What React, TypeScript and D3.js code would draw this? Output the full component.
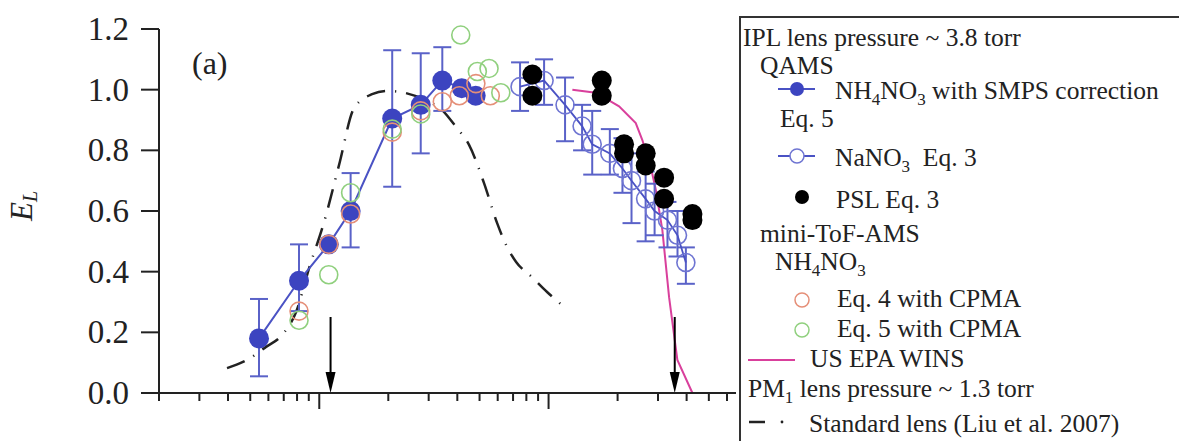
import React from "react";
import * as d3 from "d3";

// ---- Data (aerodynamic diameter in nm, E_L) ----
const blueX = [54.6, 81.6, 110, 137, 208, 277, 344, 418, 481];
const blueY = [0.18, 0.37, 0.49, 0.6, 0.905, 0.95, 1.03, 1.005, 0.98];
const blueLo = [0.055, 0.27, null, 0.48, 0.68, 0.79, 0.93, null, null];
const blueHi = [0.31, 0.49, null, 0.725, 1.13, 1.12, 1.14, null, null];

const naX = [751, 956, 1180, 1400, 1550, 1850, 2100, 2300, 2650, 2900, 3300, 3650, 3970];
const naY = [1.01, 1.03, 0.95, 0.88, 0.82, 0.79, 0.74, 0.7, 0.64, 0.6, 0.57, 0.52, 0.43];
const naLo = [0.93, 0.95, 0.83, 0.8, 0.72, 0.72, 0.66, 0.56, 0.5, 0.52, 0.48, 0.45, 0.36];
const naHi = [1.09, 1.1, 1.04, 0.95, 0.93, 0.87, 0.84, 0.79, 0.73, 0.69, 0.63, 0.6, 0.48];

const pslX = [850, 850, 1706, 1706, 2134, 2134, 2652, 2652, 3190, 3190, 4240, 4240];
const pslY = [1.05, 0.98, 1.03, 0.98, 0.82, 0.79, 0.79, 0.75, 0.71, 0.64, 0.59, 0.57];

const redX = [81.6, 110, 137, 208, 277, 344, 408, 482, 557];
const redY = [0.27, 0.49, 0.59, 0.86, 0.93, 0.96, 0.98, 1.02, 0.98];

const greenX = [81.6, 110, 137, 208, 277, 414, 489, 550, 619];
const greenY = [0.24, 0.39, 0.66, 0.87, 0.92, 1.18, 1.06, 1.07, 0.99];

const winsX = [1270, 1606, 2030, 2400, 2564, 2791, 2935, 3135, 3354, 3645, 4240];
const winsY = [1.0, 0.99, 0.945, 0.89, 0.834, 0.745, 0.67, 0.537, 0.316, 0.109, 0.0];

const liuX = [39.6, 48.4, 58.6, 68.2, 79.2, 90.3, 105, 122, 142, 170, 198, 223, 295, 340, 395, 450, 523, 596, 653, 722, 847, 985, 1168];
const liuY = [0.082, 0.109, 0.152, 0.188, 0.267, 0.412, 0.564, 0.752, 0.94, 0.985, 0.996, 0.993, 0.963, 0.936, 0.877, 0.818, 0.692, 0.561, 0.488, 0.432, 0.382, 0.333, 0.284];

const arrowX = [112, 3550];
const yTicks = [0, 0.2, 0.4, 0.6, 0.8, 1.0, 1.2];

const FONT = "'Liberation Serif', 'Times New Roman', serif";
const BLUE = "#3c44c0";
const BLUE_BAR = "#5a62c8";
const OPEN_BLUE = "#6f75d2";
const RED = "#e58f78";
const GREEN = "#90d07e";
const PINK = "#d9409c";

export default function App() {
  const x = d3.scaleLog().domain([20, 6000]).range([159, 727]);
  const y = d3.scaleLinear().domain([0, 1.2]).range([393, 29]);

  const majors = [100, 1000];
  const minors: number[] = [];
  [10, 100, 1000].forEach((dec) => {
    for (let k = 2; k <= 9; k++) {
      const v = dec * k;
      if (v >= 20 && v <= 6000) minors.push(v);
    }
  });

  const line = d3
    .line<[number, number]>()
    .x((d) => x(d[0]))
    .y((d) => y(d[1]));
  const curve = d3
    .line<[number, number]>()
    .x((d) => x(d[0]))
    .y((d) => y(d[1]))
    .curve(d3.curveMonotoneX);

  const bluePts = blueX.map((v, i) => [v, blueY[i]] as [number, number]);
  const naPts = naX.map((v, i) => [v, naY[i]] as [number, number]);
  const winsPts = winsX.map((v, i) => [v, winsY[i]] as [number, number]);
  const liuPts = liuX.map((v, i) => [v, liuY[i]] as [number, number]);

  const errBar = (xv: number, lo: number | null, hi: number | null, color: string, key: string) => {
    if (lo == null || hi == null) return null;
    const cx = x(xv);
    return (
      <g key={key} stroke={color} strokeWidth={2}>
        <line x1={cx} x2={cx} y1={y(lo)} y2={y(hi)} />
        <line x1={cx - 9} x2={cx + 9} y1={y(lo)} y2={y(lo)} />
        <line x1={cx - 9} x2={cx + 9} y1={y(hi)} y2={y(hi)} />
      </g>
    );
  };

  const sub = (t: string) => (
    <tspan fontSize={17} dy={6}>
      {t}
    </tspan>
  );
  const up = (t: string) => <tspan dy={-6}>{t}</tspan>;

  return (
    <svg width={1179} height={441} style={{ display: "block", position: "absolute", left: 0, top: 0, background: "#fff" }}>
      <rect x={0} y={0} width={1179} height={441} fill="#fff" />

      {/* Liu et al. dashed curve */}
      <path d={curve(liuPts) || ""} fill="none" stroke="#222" strokeWidth={2.5} strokeDasharray="19,10,1.2,10" />

      {/* US EPA WINS */}
      <path d={line(winsPts) || ""} fill="none" stroke={PINK} strokeWidth={2} />

      {/* Blue NH4NO3 error bars, line, markers */}
      {blueX.map((v, i) => errBar(v, blueLo[i], blueHi[i], BLUE_BAR, "be" + i))}
      <path d={line(bluePts) || ""} fill="none" stroke="#4a52c4" strokeWidth={2} />
      {bluePts.map((p, i) => (
        <circle key={"b" + i} cx={x(p[0])} cy={y(p[1])} r={10} fill={BLUE} />
      ))}

      {/* mini-ToF-AMS open circles */}
      {redX.map((v, i) => (
        <circle key={"r" + i} cx={x(v)} cy={y(redY[i])} r={9} fill="none" stroke={RED} strokeWidth={1.6} />
      ))}
      {greenX.map((v, i) => (
        <circle key={"g" + i} cx={x(v)} cy={y(greenY[i])} r={9} fill="none" stroke={GREEN} strokeWidth={1.6} />
      ))}

      {/* NaNO3 */}
      {naX.map((v, i) => errBar(v, naLo[i], naHi[i], BLUE_BAR, "ne" + i))}
      <path d={line(naPts) || ""} fill="none" stroke="#4a52c4" strokeWidth={1.8} />
      {naPts.map((p, i) => (
        <circle key={"n" + i} cx={x(p[0])} cy={y(p[1])} r={9} fill="none" stroke={OPEN_BLUE} strokeWidth={1.6} />
      ))}

      {/* PSL */}
      {pslX.map((v, i) => (
        <circle key={"p" + i} cx={x(v)} cy={y(pslY[i])} r={10} fill="#000" />
      ))}

      {/* arrows */}
      {arrowX.map((v, i) => {
        const cx = x(v);
        return (
          <g key={"a" + i}>
            <line x1={cx} x2={cx} y1={317} y2={375} stroke="#000" strokeWidth={2} />
            <path d={`M${cx - 5},${372} L${cx + 5},${372} L${cx},${393} Z`} fill="#000" />
          </g>
        );
      })}

      {/* axes */}
      <g stroke="#222" strokeWidth={2}>
        <line x1={x(20)} x2={x(20)} y1={y(1.2)} y2={y(0)} />
        <line x1={x(20) - 18} x2={736} y1={y(0)} y2={y(0)} />
        {yTicks.map((t) => (
          <line key={"yt" + t} x1={x(20) - 18} x2={x(20)} y1={y(t)} y2={y(t)} />
        ))}
        {minors.map((m) => (
          <line key={"xm" + m} x1={x(m)} x2={x(m)} y1={y(0)} y2={y(0) + 8} />
        ))}
        {majors.map((m) => (
          <line key={"xM" + m} x1={x(m)} x2={x(m)} y1={y(0)} y2={y(0) + 16} />
        ))}
      </g>
      {yTicks.map((t) => (
        <text key={"yl" + t} x={129} y={y(t) + 11} textAnchor="end" fontFamily={FONT} fontSize={33} fill="#222">
          {t.toFixed(1)}
        </text>
      ))}
      <text transform="translate(32,206) rotate(-90)" textAnchor="middle" fontFamily={FONT} fontSize={31} fontStyle="italic" fill="#222">
        E<tspan fontSize={20} dy={5}>L</tspan>
      </text>
      <text x={192} y={74} fontFamily={FONT} fontSize={32} fill="#222">
        (a)
      </text>

      {/* legend */}
      <rect x={740} y={17} width={480} height={460} fill="#fff" stroke="#333" strokeWidth={2} />
      <g fontFamily={FONT} fontSize={25.5} fill="#222">
        <text x={743} y={46}>IPL lens pressure ~ 3.8 torr</text>
        <text x={760} y={74}>QAMS</text>
        <line x1={778} x2={815} y1={89} y2={89} stroke="#4a52c4" strokeWidth={2} />
        <circle cx={797} cy={89} r={7} fill={BLUE} />
        <text x={835} y={99}>
          NH{sub("4")}
          {up("NO")}
          {sub("3")}
          {up(" with SMPS correction")}
        </text>
        <text x={780} y={127}>Eq. 5</text>
        <line x1={778} x2={815} y1={156} y2={156} stroke="#4a52c4" strokeWidth={2} />
        <circle cx={797} cy={156} r={7} fill="#fff" stroke={OPEN_BLUE} strokeWidth={1.5} />
        <text x={835} y={166}>
          NaNO{sub("3")}
          {up("\u00a0 Eq. 3")}
        </text>
        <circle cx={802} cy={197} r={7} fill="#000" />
        <text x={836} y={208}>PSL Eq. 3</text>
        <text x={760} y={242}>mini-ToF-AMS</text>
        <text x={775} y={270}>
          NH{sub("4")}
          {up("NO")}
          {sub("3")}
        </text>
        <circle cx={802} cy={300} r={7} fill="none" stroke={RED} strokeWidth={1.5} />
        <text x={837} y={307}>Eq. 4 with CPMA</text>
        <circle cx={802} cy={330} r={7} fill="none" stroke={GREEN} strokeWidth={1.5} />
        <text x={837} y={337}>Eq. 5 with CPMA</text>
        <line x1={748} x2={795} y1={360} y2={360} stroke={PINK} strokeWidth={2} />
        <text x={810} y={367}>US EPA WINS</text>
        <text x={748} y={397}>
          PM{sub("1")}
          {up(" lens pressure ~ 1.3 torr")}
        </text>
        <line x1={749} x2={765} y1={422} y2={422} stroke="#222" strokeWidth={2.5} />
        <circle cx={782} cy={422} r={1.4} fill="#222" />
        <text x={809} y={432}>Standard lens (Liu et al. 2007)</text>
      </g>
    </svg>
  );
}
